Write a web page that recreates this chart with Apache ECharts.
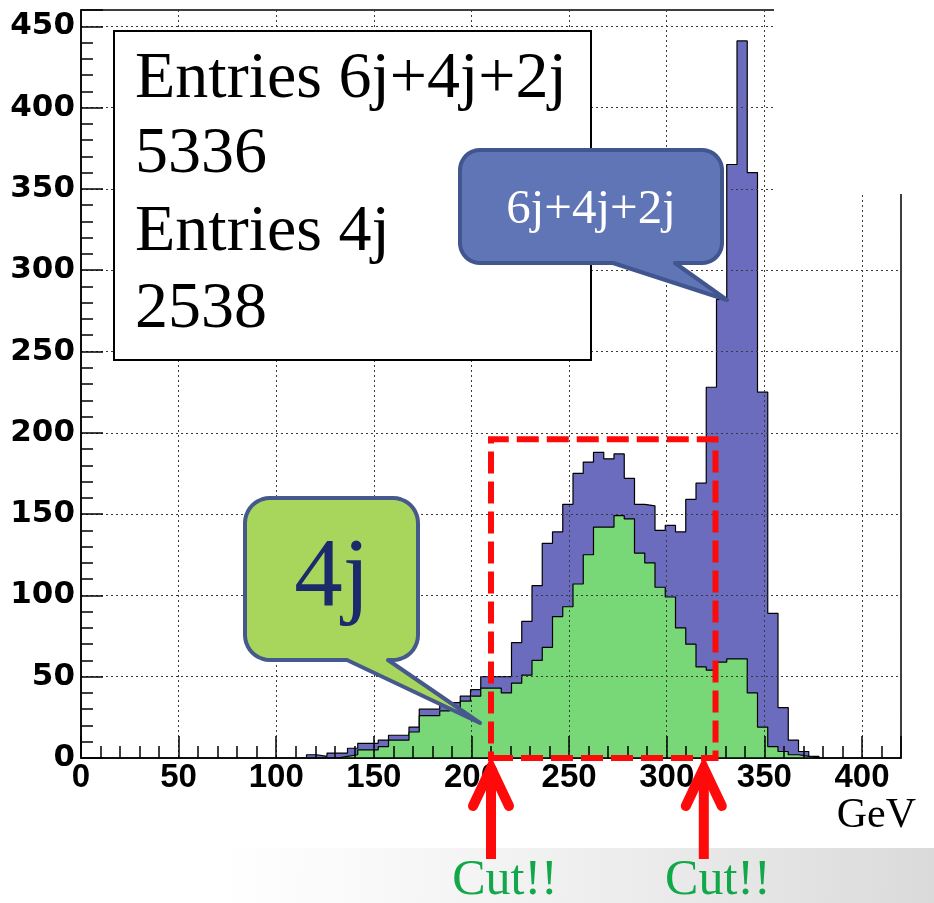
<!DOCTYPE html>
<html>
<head>
<meta charset="utf-8">
<script src="https://cdn.jsdelivr.net/npm/echarts@6/dist/echarts.min.js"></script>
<style>
html,body{margin:0;padding:0;background:#fff;}
#c{width:934px;height:903px;}
</style>
</head>
<body>
<div id="c"></div>
<script>
// ---- data (80 bins of 5.25 GeV over 0..420) ----
const binWidth = 5.25;
const xRange = [0, 420];
const yRange = [0, 460];
const xTickStep = 50;
const yTickStep = 50;
const firstBin = 22; // bin index of the first value below
// 6j+4j+2j (all entries)
const totalCounts = [2,1,3,3,6,9,9,11,14,14,19,30,30,34,34,38,42,50,50,50,71,84,106,132,139,156,175,182,188,184,187,172,156,155,140,143,139,159,169,228,282,365,441,360,225,89,31,11,4,1];
// 4j only
const fourJetCounts = [0,0,0,1,2,5,5,7,11,11,16,26,26,29,31,35,38,43,43,40,46,51,60,68,87,93,107,125,142,142,149,147,126,120,105,99,80,70,56,54,59,61,61,40,19,7,4,2,1,0];
// annotation values
const statsLines = ['Entries 6j+4j+2j', '5336', 'Entries 4j', '2538'];
const cutBox = {low: 210, high: 325, top: 196};
const cutArrowsAt = [210, 319];
const xTitle = 'GeV';

function stepData(counts) {
  const d = [[firstBin * binWidth, 0]];
  counts.forEach((c, i) => d.push([(firstBin + i) * binWidth, c]));
  d.push([(firstBin + counts.length) * binWidth, 0]);
  return d;
}

const chart = echarts.init(document.getElementById('c'));

const tickStyle = {color: '#000', width: 1.5};
const gridLine = {show: true, lineStyle: {color: '#3a3a3a', type: [2, 3], width: 1}};

chart.setOption({
  animation: false,
  backgroundColor: '#ffffff',
  grid: {left: 81, right: 33, top: 10, bottom: 145, show: true, borderColor: '#000', borderWidth: 1.5},
  xAxis: {
    type: 'value', min: xRange[0], max: xRange[1], interval: xTickStep, z: 5,
    axisLine: {show: true, onZero: false, lineStyle: tickStyle},
    axisTick: {show: true, inside: true, length: 22, lineStyle: tickStyle},
    minorTick: {show: true, splitNumber: 5, length: 12, lineStyle: tickStyle},
    splitLine: gridLine,
    axisLabel: {color: '#000', fontFamily: "'Liberation Sans',Arial,sans-serif",
      fontWeight: 'bold', fontSize: 33, margin: 3, showMaxLabel: false}
  },
  yAxis: {
    type: 'value', min: yRange[0], max: yRange[1], interval: yTickStep, z: 5,
    axisLine: {show: true, onZero: false, lineStyle: tickStyle},
    axisTick: {show: true, inside: true, length: 22, lineStyle: tickStyle},
    minorTick: {show: true, splitNumber: 5, length: 12, lineStyle: tickStyle},
    splitLine: gridLine,
    axisLabel: {color: '#000', fontFamily: "'DejaVu Sans',sans-serif", fontWeight: 'bold',
      fontSize: 31, margin: 6, showMaxLabel: false}
  },
  series: [
    {
      name: '6j+4j+2j', type: 'line', step: 'end', symbol: 'none', z: 2,
      data: stepData(totalCounts),
      lineStyle: {color: '#000', width: 1.2},
      areaStyle: {color: '#6c6cbe', opacity: 1}
    },
    {
      name: '4j', type: 'line', step: 'end', symbol: 'none', z: 3,
      data: stepData(fourJetCounts),
      lineStyle: {color: '#000', width: 1.2},
      areaStyle: {color: '#78d878', opacity: 1}
    },
    {
      name: 'cut', type: 'line', data: [], z: 20, symbol: 'none',
      markArea: {
        silent: true, z: 20,
        itemStyle: {color: 'rgba(0,0,0,0)', borderColor: '#ff0a0a', borderWidth: 6, borderType: [22, 8]},
        data: [[{coord: [cutBox.low, 0]}, {coord: [cutBox.high, cutBox.top]}]]
      }
    }
  ]
});

// ---- annotations ----
const serif = "'Liberation Serif','DejaVu Serif',serif";
const graphics = [];

function callout(x1, y1, x2, y2, r, baseL, tip, baseR) {
  const pts = [];
  function arc(cx, cy, a0, a1) {
    const n = 10;
    for (let k = 0; k <= n; k++) {
      const a = (a0 + (a1 - a0) * k / n) * Math.PI / 180;
      pts.push([cx + r * Math.cos(a), cy + r * Math.sin(a)]);
    }
  }
  arc(x2 - r, y1 + r, -90, 0);
  arc(x2 - r, y2 - r, 0, 90);
  pts.push([baseR, y2], tip, [baseL, y2]);
  arc(x1 + r, y2 - r, 90, 180);
  arc(x1 + r, y1 + r, 180, 270);
  return pts;
}

// slide background gradient at bottom right
graphics.push({type: 'rect', z: 1, silent: true,
  shape: {x: 220, y: 848, width: 714, height: 55},
  style: {fill: new echarts.graphic.LinearGradient(0, 0, 1, 0.4, [
    {offset: 0, color: 'rgba(228,228,228,0)'}, {offset: 1, color: 'rgba(218,218,218,1)'}])}});

// white cover in the top-right corner (pasted picture edge)
graphics.push({type: 'rect', z: 50, silent: true,
  shape: {x: 774, y: 0, width: 160, height: 194}, style: {fill: '#ffffff'}});

// stats box
graphics.push({type: 'rect', z: 60, shape: {x: 114, y: 31, width: 477, height: 329},
  style: {fill: '#ffffff', stroke: '#000', lineWidth: 2}});
const lineMid = [80, 155, 233, 310];
statsLines.forEach((t, i) => graphics.push({type: 'text', z: 61, x: 135, y: lineMid[i],
  style: {text: t, fill: '#000', font: '66px ' + serif, verticalAlign: 'middle', align: 'left'}}));

// blue callout
graphics.push({type: 'polygon', z: 70,
  shape: {points: callout(460, 150, 722, 263, 20, 613, [727, 300], 675)},
  style: {fill: '#5f75b6', stroke: '#41558f', lineWidth: 4, lineJoin: 'round'}});
graphics.push({type: 'text', z: 71, x: 591, y: 210,
  style: {text: '6j+4j+2j', fill: '#ffffff', font: '49px ' + serif, align: 'center', verticalAlign: 'middle'}});

// green callout
graphics.push({type: 'polygon', z: 70,
  shape: {points: callout(245, 498, 418, 660, 25, 347, [480, 723], 388)},
  style: {fill: '#a8d65c', stroke: '#46598c', lineWidth: 4, lineJoin: 'round'}});
graphics.push({type: 'text', z: 71, x: 332, y: 580,
  style: {text: '4j', fill: '#1b2a6b', font: '97px ' + serif, align: 'center', verticalAlign: 'middle'}});

// x title
graphics.push({type: 'text', z: 71, x: 916, y: 816,
  style: {text: xTitle, fill: '#000', font: '42px ' + serif, align: 'right', verticalAlign: 'middle'}});

// cut arrows
cutArrowsAt.forEach(v => {
  const p = chart.convertToPixel({gridIndex: 0}, [v, 0]);
  const x = p[0];
  graphics.push({type: 'line', z: 80, shape: {x1: x, y1: 772, x2: x, y2: 859},
    style: {stroke: '#ff0a0a', lineWidth: 10}});
  graphics.push({type: 'polyline', z: 80, shape: {points: [[x - 18, 806], [x, 768], [x + 18, 806]]},
    style: {stroke: '#ff0a0a', lineWidth: 10, fill: null, lineCap: 'round', lineJoin: 'miter'}});
  graphics.push({type: 'text', z: 80, x: x + 14, y: 881,
    style: {text: 'Cut!!', fill: '#12a84a', font: '50px ' + serif, align: 'center', verticalAlign: 'middle'}});
});

chart.setOption({graphic: graphics});
</script>
</body>
</html>
